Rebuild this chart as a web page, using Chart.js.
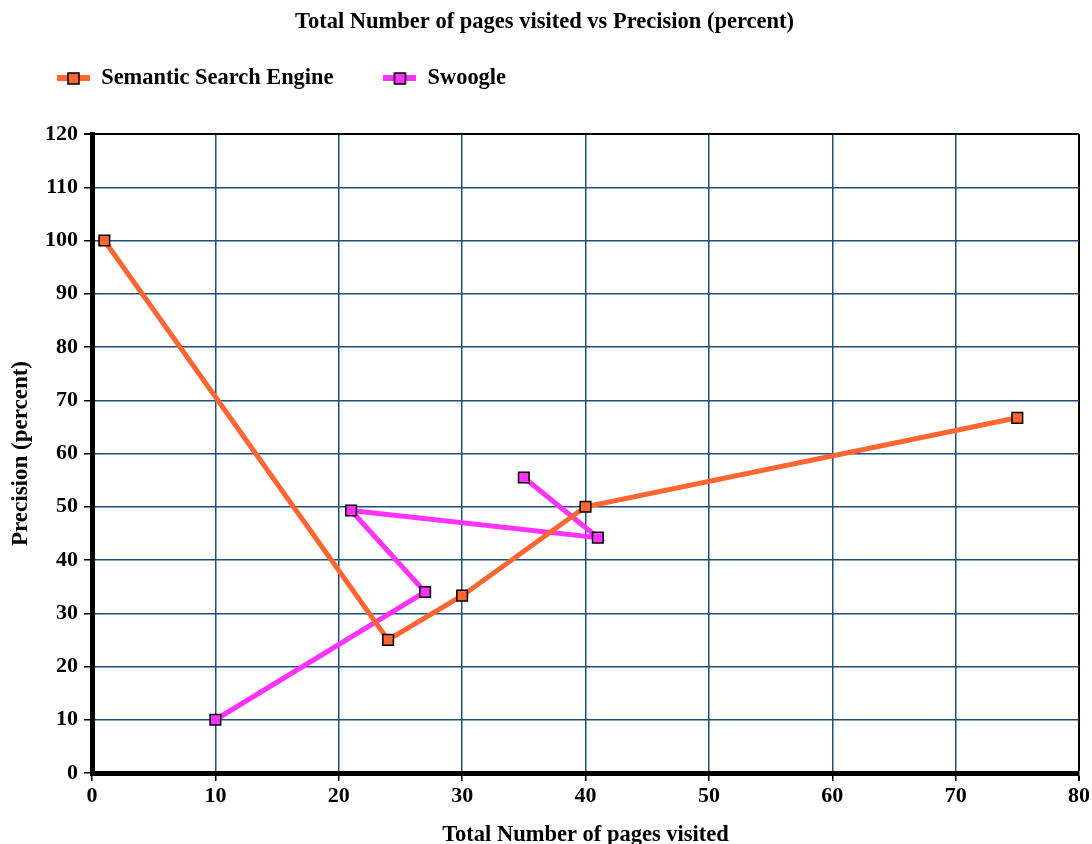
<!DOCTYPE html>
<html>
<head>
<meta charset="utf-8">
<script src="https://cdn.jsdelivr.net/npm/chart.js@4"></script>
<style>
  html,body{margin:0;padding:0;background:#fff;}
  #wrap{width:1092px;height:844px;position:relative;}
</style>
</head>
<body>
<div id="wrap"><canvas id="chart" width="1092" height="844"></canvas></div>
<script>
const TITLE = 'Total Number of pages visited vs Precision (percent)';
const X_LABEL = 'Total Number of pages visited';
const Y_LABEL = 'Precision (percent)';
const SERIES_NAMES = ['Semantic Search Engine','Swoogle'];
const sseX = [1,24,30,40,75];
const sseY = [100,25,33.3,50,66.7];
const swoogleX = [10,27,21,41,35];
const swoogleY = [10,34,49.3,44.2,55.5];
const X_MIN = 0, X_MAX = 80, X_STEP = 10;
const Y_MIN = 0, Y_MAX = 120, Y_STEP = 10;

const ORANGE = '#ff6633';
const MAGENTA = '#ff33ff';
const GRID = '#1f4e79';
const FONT = '"Liberation Serif", "DejaVu Serif", serif';

// small line + square marker for the legend
function legendIcon(color){
  const c = document.createElement('canvas');
  c.width = 33; c.height = 16;
  const g = c.getContext('2d');
  g.strokeStyle = color; g.lineWidth = 6;
  g.beginPath(); g.moveTo(0,8); g.lineTo(33,8); g.stroke();
  g.fillStyle = color; g.fillRect(11,3,11,11);
  g.strokeStyle = '#000'; g.lineWidth = 1.5; g.strokeRect(11,3,11,11);
  return c;
}

function pts(xs,ys){ return xs.map((x,i)=>({x:x,y:ys[i]})); }

const icons = [legendIcon(ORANGE), legendIcon(MAGENTA)];

new Chart(document.getElementById('chart'),{
  type:'scatter',
  data:{
    datasets:[
      {label:SERIES_NAMES[0],data:pts(sseX,sseY),showLine:true,borderColor:ORANGE,backgroundColor:ORANGE,
       borderWidth:5,pointStyle:'rect',pointRadius:7.5,pointBorderColor:'#000',pointBorderWidth:1.5,pointBackgroundColor:ORANGE},
      {label:SERIES_NAMES[1],data:pts(swoogleX,swoogleY),showLine:true,borderColor:MAGENTA,backgroundColor:MAGENTA,
       borderWidth:5,pointStyle:'rect',pointRadius:7.5,pointBorderColor:'#000',pointBorderWidth:1.5,pointBackgroundColor:MAGENTA}
    ]
  },
  options:{
    responsive:false,
    animation:false,
    layout:{padding:{left:7,right:10,top:0,bottom:0}},
    plugins:{
      title:{display:true,text:TITLE,color:'#000',weight:2000,font:{family:FONT,size:22.5,weight:'bold'},padding:{top:8.5,bottom:-18.7}},
      subtitle:{display:true,text:'',weight:500,font:{size:10},padding:{top:0,bottom:22.8}},
      legend:{
        position:'top',align:'start',
        labels:{
          usePointStyle:true,pointStyleWidth:33,color:'#000',font:{family:FONT,size:22.4,weight:'bold'},padding:50,
          generateLabels:chart=>chart.data.datasets.map((d,i)=>({text:d.label,pointStyle:icons[i],datasetIndex:i,fontColor:'#000',hidden:false,lineWidth:0}))
        }
      },
      tooltip:{enabled:false}
    },
    scales:{
      x:{
        type:'linear',min:X_MIN,max:X_MAX,
        ticks:{stepSize:X_STEP,color:'#000',font:{family:FONT,size:22,weight:'bold'},padding:2},
        grid:{color:c=>c.tick && c.tick.value===X_MAX?'#000':GRID,lineWidth:c=>c.tick && c.tick.value===X_MAX?2:1.5,tickColor:'#000',tickLength:8},
        border:{display:true,color:'#000',width:5},
        title:{display:true,text:X_LABEL,color:'#000',font:{family:FONT,size:22.5,weight:'bold'},padding:{top:10.1,bottom:-4.5}}
      },
      y:{
        type:'linear',min:Y_MIN,max:Y_MAX,
        ticks:{stepSize:Y_STEP,color:'#000',font:{family:FONT,size:22,weight:'bold'},padding:6},
        grid:{color:c=>c.tick && c.tick.value===Y_MAX?'#000':GRID,lineWidth:c=>c.tick && c.tick.value===Y_MAX?2:1.5,tickColor:'#000',tickLength:8},
        border:{display:true,color:'#000',width:5},
        title:{display:true,text:Y_LABEL,color:'#000',font:{family:FONT,size:23,weight:'bold'},padding:{top:0.2,bottom:4.2}}
      }
    }
  }
});
</script>
</body>
</html>
